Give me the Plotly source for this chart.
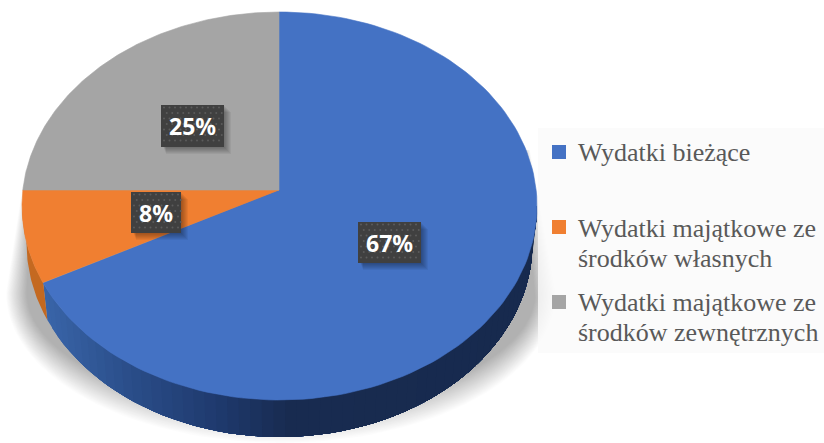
import numpy as np
import plotly.graph_objects as go

# --- data ---
categories = ["Wydatki bieżące", "Wydatki majątkowe ze środków własnych", "Wydatki majątkowe ze środków zewnętrznych"]
legend_lines = [["Wydatki bieżące"], ["Wydatki majątkowe ze", "środków własnych"], ["Wydatki majątkowe ze", "środków zewnętrznych"]]
values = [67, 8, 25]
colors = ["#4472C4", "#F07F31", "#A5A5A5"]

# --- geometry (pixels, the axes are mapped 1:1 on the page) ---
CX, CY, RX, RY = 279.5, 206.0, 257.5, 194.0
AX, AY = 279.0, 190.0
KY = 185.0
DEPTH, RX_B = 37.0, 253.0


def rim(theta):
    """Point of the top ellipse reached by the ray from the apex at pie angle theta (clockwise from 12 o'clock)."""
    dx, dy = RX * np.sin(theta), -KY * np.cos(theta)
    ox, oy = AX - CX, AY - CY
    a = (dx / RX) ** 2 + (dy / RY) ** 2
    b = 2 * (ox * dx / RX ** 2 + oy * dy / RY ** 2)
    c = (ox / RX) ** 2 + (oy / RY) ** 2 - 1
    t = (-b + np.sqrt(b * b - 4 * a * c)) / (2 * a)
    return AX + t * dx, AY + t * dy


def phi_of(x, y):
    return np.arctan2((y - CY) / RY, (x - CX) / RX) % (2 * np.pi)


def lerp_hex(stops, x):
    xs = [s[0] for s in stops]
    rgb = [np.interp(x, xs, [s[1][i] for s in stops]) for i in range(3)]
    return "rgb(%d,%d,%d)" % tuple(int(round(v)) for v in rgb)


fig = go.Figure()


def poly(xs, ys, fill, line=None, name="", hover=False):
    fig.add_trace(go.Scatter(
        x=list(xs), y=list(ys), mode="lines", fill="toself", fillcolor=fill,
        line=dict(color=line or "rgba(0,0,0,0)", width=0.6 if line else 0),
        name=name, showlegend=False, hoverinfo="name" if hover else "skip"))


# soft shadow: stacked translucent silhouettes, wider blur towards the bottom
for d in np.linspace(0, 34, 26):
    ph = np.linspace(0, np.pi, 80)
    sx = 281 + (275 - d * 0.6) * np.cos(ph)
    sy = 293 + (150 - d) * np.sin(ph)
    poly(np.r_[530 - d * 0.2, sx, 25 + d * 0.2], np.r_[150, sy, 170], "rgba(0,0,0,0.0115)")

# legend panel
poly([538, 824, 824, 538], [128, 128, 353, 353], "rgba(250,250,250,0.8)")

# wedge angle boundaries from the values
fractions = np.array(values) / sum(values)
edges = np.r_[0, np.cumsum(fractions)] * 2 * np.pi

# side wall, painted over itself so that no seams appear
bx, by = rim(edges[1])
phi_split = phi_of(bx, by)
blue_stops = [(40, (58, 102, 170)), (130, (42, 77, 137)), (215, (31, 58, 110)), (290, (24, 43, 80)), (540, (23, 42, 78))]
ORANGE_SIDE = "rgb(196,105,33)"

ph_blue = np.linspace(phi_split, 0, 61)
for i in range(60):
    sub = ph_blue[i:]
    xs = np.r_[CX + RX * np.cos(sub), CX + RX_B * np.cos(sub[::-1])]
    ys = np.r_[CY + RY * np.sin(sub), CY + DEPTH + RY * np.sin(sub[::-1])]
    c = lerp_hex(blue_stops, CX + RX * np.cos((ph_blue[i] + ph_blue[i + 1]) / 2))
    poly(xs, ys, c)

sub = np.linspace(phi_split, np.pi, 30)
poly(np.r_[CX + RX * np.cos(sub), CX + RX_B * np.cos(sub[::-1])],
     np.r_[CY + RY * np.sin(sub), CY + DEPTH + RY * np.sin(sub[::-1])], ORANGE_SIDE)

# top surface wedges
for cat, col, t0, t1 in zip(categories, colors, edges[:-1], edges[1:]):
    th = np.linspace(t0, t1, 140)
    rx_, ry_ = rim(th)
    poly(np.r_[AX, rx_, AX], np.r_[AY, ry_, AY], col, col, name=cat, hover=True)

# data label boxes: shadow, box, dots
boxes = [(358, 421, 222, 263), (131, 181, 192, 233), (161, 224, 105, 147)]
for x0, x1, y0, y1 in boxes:
    for s in range(7):
        o = 7 - s
        poly([x0 - 2 + o + s * 0.6, x1 + o, x1 + o, x0 - 2 + o + s * 0.6], [y0 + o, y0 + o, y1 + o, y1 + o], "rgba(0,0,0,0.05)")
    poly([x0, x1, x1, x0], [y0, y0, y1, y1], "#404040")
    gx, gy = np.meshgrid(np.arange(x0 + 3, x1 - 1, 5.5), np.arange(y0 + 2.5, y1 - 1, 5.5))
    ox = gx.copy()
    ox[1::2] += 2.75
    fig.add_trace(go.Scatter(x=ox.ravel(), y=gy.ravel(), mode="markers",
                             marker=dict(size=2, color="#5c5c5c", line=dict(width=0)),
                             showlegend=False, hoverinfo="skip"))

annotations = []
for v, (x0, x1, y0, y1) in zip(values, boxes):
    annotations.append(dict(x=(x0 + x1) / 2, y=(y0 + y1) / 2, xref="x", yref="y", text=f"<b>{v}%</b>", showarrow=False,
                            font=dict(family="Noto Sans", size=23, color="white")))

# legend built by hand to keep its uneven spacing
legend_y = [152, 227, 302]
legend_text_y = [[152], [228, 258], [302, 332]]
fig.add_trace(go.Scatter(x=[559] * 3, y=legend_y, mode="markers",
                         marker=dict(symbol="square", size=14, color=colors, line=dict(width=0)),
                         showlegend=False, hoverinfo="skip"))
for lines, ys in zip(legend_lines, legend_text_y):
    for txt, yy in zip(lines, ys):
        annotations.append(dict(x=576, y=yy, xref="x", yref="y", text=txt, showarrow=False, xanchor="left", yanchor="middle",
                                align="left", font=dict(family="Liberation Serif", size=26, color="#595959")))

fig.update_layout(
    width=824, height=443, autosize=False, margin=dict(l=0, r=0, t=0, b=0),
    paper_bgcolor="white", plot_bgcolor="white", showlegend=False, annotations=annotations,
    xaxis=dict(range=[0, 824], visible=False, fixedrange=True),
    yaxis=dict(range=[443, 0], visible=False, fixedrange=True),
)
fig.write_html("out.html", config=dict(displayModeBar=False),
               post_script="document.body.style.margin='0';document.body.style.overflow='hidden';")
